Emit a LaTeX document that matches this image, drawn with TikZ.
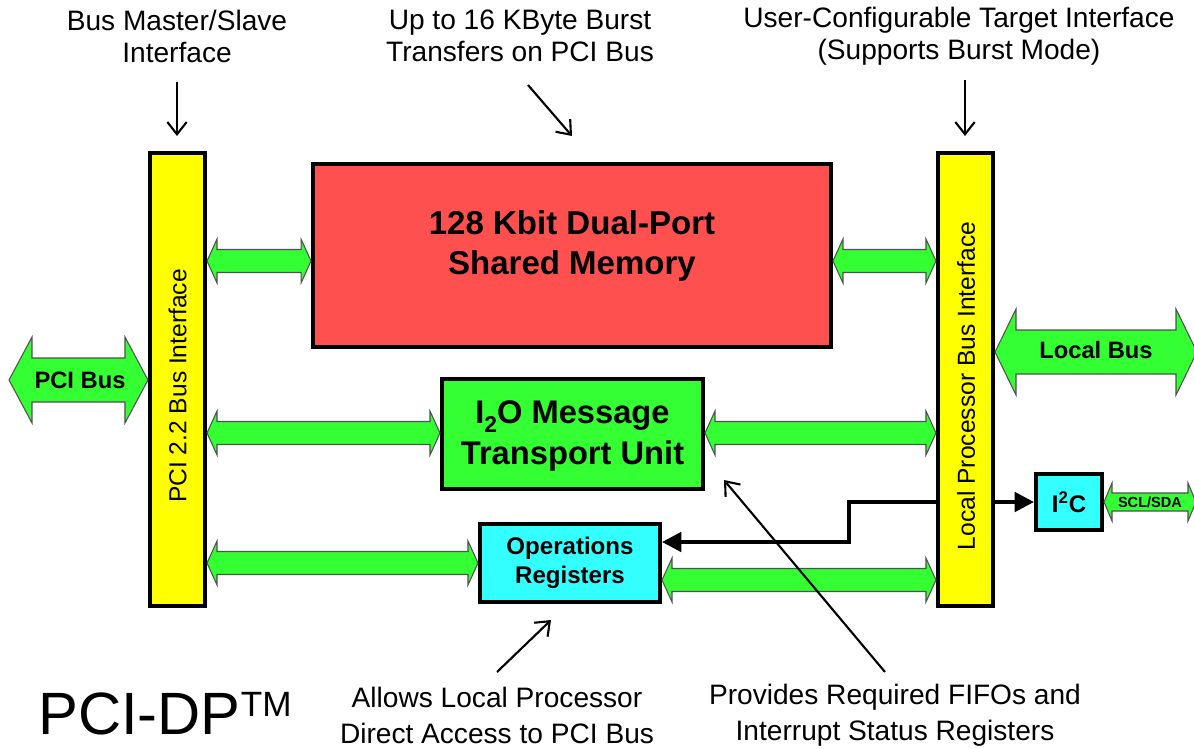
\documentclass[tikz,border=0pt]{standalone}
\usepackage{fontspec}
\setmainfont{Liberation Sans}
\usetikzlibrary{arrows.meta,calc}
\definecolor{ylw}{HTML}{FFFF00}
\definecolor{memred}{HTML}{FF5050}
\definecolor{grn}{HTML}{33FF33}
\definecolor{cyn}{HTML}{33FFFF}
\definecolor{edgegray}{HTML}{505050}
\pgfdeclarelayer{background}
\pgfsetlayers{background,main}
\def\pxu{0.569055pt}
% #1 start, #2 end, #3 half shaft, #4 half head, #5 head length (px)
\newcommand\garrow[5]{%
  \path[barrow] let \p1=#1, \p2=#2 in
    (\x1,\y1) -- (\x1+#5*\pxu,\y1+#4*\pxu) -- (\x1+#5*\pxu,\y1+#3*\pxu)
    -- (\x2-#5*\pxu,\y1+#3*\pxu) -- (\x2-#5*\pxu,\y1+#4*\pxu) -- (\x2,\y1)
    -- (\x2-#5*\pxu,\y1-#4*\pxu) -- (\x2-#5*\pxu,\y1-#3*\pxu)
    -- (\x1+#5*\pxu,\y1-#3*\pxu) -- (\x1+#5*\pxu,\y1-#4*\pxu) -- cycle;}
\begin{document}
\begin{tikzpicture}[x=0.02cm,y=-0.02cm,
  blk/.style={draw=black, line width=2.3pt, inner sep=0pt, align=center},
  ann/.style={font=\fontsize{16}{18.2}\selectfont, align=center, inner sep=0pt},
  annb/.style={font=\fontsize{16}{20.5}\selectfont, align=center, inner sep=0pt},
  pointer/.style={line width=1.2pt, -{Straight Barb[length=7pt,width=11pt]}},
  conn/.style={line width=2.2pt, {Triangle[length=11pt,width=11pt]}-{Triangle[length=11pt,width=11pt]}},
  barrow/.style={fill=grn, draw=edgegray, line width=0.6pt, line join=miter},
  vtxt/.style={rotate=90, font=\fontsize{14}{14}\selectfont, inner sep=0pt}]
\useasboundingbox (0,0) rectangle (1194,748);

% bars
\node[blk, fill=ylw, minimum width=1.1cm, minimum height=9.06cm] (pcil) at (177.5,379.5) {};
\node[vtxt] (pcitxt) at (177.5,386) {PCI 2.2 Bus Interface};
\node[blk, fill=ylw, minimum width=1.1cm, minimum height=9.06cm] (pcir) at (965.5,379.5) {};
\node[vtxt] (loctxt) at (966,386) {Local Processor Bus Interface};

% blocks
\node[blk, fill=memred, minimum width=10.36cm, minimum height=3.66cm] (mem) at (572,255.5) {};
\node[align=center, inner sep=0pt, font=\fontsize{18.8}{22.8}\selectfont\bfseries] (memtxt) at (572,246) {128 Kbit Dual-Port\\Shared Memory};
\node[blk, fill=grn, minimum width=5.22cm, minimum height=2.2cm] (i2o) at (572.5,434) {};
\node[align=center, inner sep=0pt, font=\fontsize{18.6}{22.8}\selectfont\bfseries] (i2otxt) at (572.5,436) {I\raisebox{-0.25em}{\fontsize{13}{13}\selectfont 2}O Message\\Transport Unit};
\node[blk, fill=cyn, minimum width=3.6cm, minimum height=1.56cm, font=\fontsize{13.7}{16.5}\selectfont\bfseries] (ops) at (570,563) {Operations\\Registers};
\node[blk, fill=cyn, minimum width=1.32cm, minimum height=1.12cm, font=\fontsize{13.7}{16}\selectfont\bfseries] (i2c) at (1069,502) {I\textsuperscript{2}C};

% black connector behind the bar
\coordinate (bendlow) at (849,542);
\coordinate (bendhigh) at (849,502);
\begin{pgfonlayer}{background}
\draw[conn] (ops.east |- bendlow) -- (bendlow) -- (bendhigh) -- (i2c.west);
\end{pgfonlayer}

% green bus arrows
\coordinate (pcibusend) at (9,380);
\coordinate (localend) at (1197,352);
\coordinate (sclend) at (1196,502);
\garrow{(pcibusend)}{(pcil.west |- 0,380)}{22}{43}{23}
\node[inner sep=0pt, font=\fontsize{13.5}{13.5}\selectfont\bfseries] (pcibus) at (80,380) {PCI Bus};
\garrow{(pcir.east |- 0,352)}{(localend)}{22}{43}{21}
\node[inner sep=0pt, font=\fontsize{13.5}{13.5}\selectfont\bfseries] (localbus) at (1096,350) {Local Bus};
\garrow{(i2c.east)}{(sclend)}{9}{19}{8}
\node[inner sep=0pt, font=\fontsize{8.3}{8.3}\selectfont\bfseries] (scl) at (1150,502) {SCL/SDA};

\garrow{(pcil.east |- 0,261)}{(mem.west |- 0,261)}{11.5}{22}{10}
\garrow{(mem.east |- 0,261)}{(pcir.west |- 0,261)}{11.5}{22}{10}
\garrow{(pcil.east |- 0,433)}{(i2o.west |- 0,433)}{11.5}{22}{10}
\garrow{(i2o.east |- 0,433)}{(pcir.west |- 0,433)}{11.5}{22}{10}
\garrow{(pcil.east |- 0,563)}{(ops.west)}{11.5}{22}{10}
\garrow{(ops.east |- 0,580)}{(pcir.west |- 0,580)}{11.5}{22}{10}

% annotations
\node[ann] (bm) at (177,36) {Bus Master/Slave\\Interface};
\node[ann] (up) at (520,36) {Up to 16 KByte Burst\\Transfers on PCI Bus};
\node[ann] (uc) at (959,36) {User-Configurable Target Interface\\(Supports Burst Mode)};
\node[annb] (al) at (497,715) {Allows Local Processor\\Direct Access to PCI Bus};
\node[annb] (pr) at (895,715) {Provides Required FIFOs and\\Interrupt Status Registers};

\coordinate (a1s) at (177,82);  \coordinate (a1e) at (177,136);
\coordinate (a2s) at (528,85);  \coordinate (a2e) at (572,136);
\coordinate (a3s) at (965,80);  \coordinate (a3e) at (965,136);
\coordinate (a4s) at (497,672); \coordinate (a4e) at (551,620);
\coordinate (a5s) at (885,672); \coordinate (a5e) at (724,480);
\draw[pointer] (a1s) -- (a1e);
\draw[pointer] (a2s) -- (a2e);
\draw[pointer] (a3s) -- (a3e);
\draw[pointer] (a4s) -- (a4e);
\draw[pointer] (a5s) -- (a5e);

% title
\node[anchor=base west, inner sep=0pt] (title) at (38,734) {\fontsize{34}{34}\selectfont PCI-DP\raisebox{10pt}{\fontsize{20}{20}\selectfont TM}};
\end{tikzpicture}
\end{document}
